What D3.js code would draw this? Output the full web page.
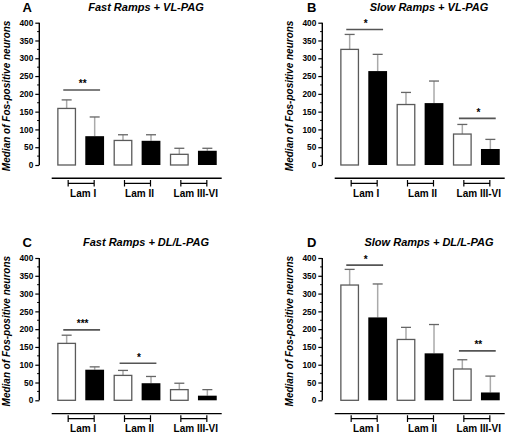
<!DOCTYPE html>
<html><head><meta charset="utf-8">
<script src="https://cdn.jsdelivr.net/npm/d3@7"></script>
<style>body{margin:0;background:#fff}svg{display:block;font-family:"Liberation Sans",Arial,sans-serif}</style>
</head><body><svg id="c" width="506" height="435"></svg>
<script>
// ---- data ----
const categories = ["Lam I", "Lam II", "Lam III-VI"];
const series = ["control", "treated"];
const panelLetters = ["A", "B", "C", "D"];
const panelTitles = ["Fast Ramps + VL-PAG", "Slow Ramps + VL-PAG", "Fast Ramps + DL/L-PAG", "Slow Ramps + DL/L-PAG"];
const yLabel = "Median of Fos-positive neurons";
const yTicks = [0, 50, 100, 150, 200, 250, 300, 350, 400];

const fastVL_control = [159, 69, 30],   fastVL_controlUpper = [183, 85, 47];
const fastVL_treated = [81, 68, 40],    fastVL_treatedUpper = [135, 85, 47];
const slowVL_control = [325, 170, 87],  slowVL_controlUpper = [367, 204, 114];
const slowVL_treated = [264, 174, 45],  slowVL_treatedUpper = [311, 236, 72];
const fastDL_control = [160, 70, 30],   fastDL_controlUpper = [183, 84, 48];
const fastDL_treated = [86, 48, 13],    fastDL_treatedUpper = [94, 67, 30];
const slowDL_control = [324, 171, 88],  slowDL_controlUpper = [368, 205, 114];
const slowDL_treated = [233, 132, 22],  slowDL_treatedUpper = [327, 213, 68];

const fastVL_sig = [{cat: "Lam I", mark: "**", level: 211}];
const slowVL_sig = [{cat: "Lam I", mark: "*", level: 381}, {cat: "Lam III-VI", mark: "*", level: 131}];
const fastDL_sig = [{cat: "Lam I", mark: "***", level: 198}, {cat: "Lam II", mark: "*", level: 104}];
const slowDL_sig = [{cat: "Lam I", mark: "*", level: 380}, {cat: "Lam III-VI", mark: "**", level: 139}];

const panels = [
  {c: fastVL_control, cu: fastVL_controlUpper, t: fastVL_treated, tu: fastVL_treatedUpper, sig: fastVL_sig},
  {c: slowVL_control, cu: slowVL_controlUpper, t: slowVL_treated, tu: slowVL_treatedUpper, sig: slowVL_sig},
  {c: fastDL_control, cu: fastDL_controlUpper, t: fastDL_treated, tu: fastDL_treatedUpper, sig: fastDL_sig},
  {c: slowDL_control, cu: slowDL_controlUpper, t: slowDL_treated, tu: slowDL_treatedUpper, sig: slowDL_sig}
];

// ---- layout ----
const svg = d3.select("#c");
const offsets = [[0, 0], [283, 0], [0, 235.3], [283, 235.3]];

panels.forEach((p, i) => {
  const [ox, oy] = offsets[i];
  const g = svg.append("g").attr("transform", `translate(${ox},${oy})`);
  const y = d3.scaleLinear().domain([0, 400]).range([165, 22.7]);
  const x = d3.scaleBand().domain(categories).range([52.5, 221.5]).padding(0);
  const xs = d3.scaleBand().domain(series).range([0, x.bandwidth()]).paddingInner(0.33).paddingOuter(0.17);

  // y axis
  const yAxis = d3.axisLeft(y).tickValues(yTicks).tickSize(4).tickPadding(2).tickFormat(d3.format("d"));
  const ag = g.append("g").attr("transform", "translate(39.3,0)").call(yAxis);
  ag.select(".domain").attr("stroke", "#000").attr("stroke-width", 1.4).attr("d", `M0,${y(400)}V${y(0)}`);
  ag.selectAll(".tick line").attr("stroke", "#000").attr("stroke-width", 1.2);
  ag.selectAll(".tick text").attr("font-size", 8.3).attr("font-weight", "bold").attr("fill", "#000")
    .attr("font-family", "Liberation Sans, Arial, sans-serif");
  // minor ticks
  const minor = d3.range(25, 400, 50);
  ag.selectAll(".minor").data(minor).join("line").attr("class", "minor")
    .attr("x1", -2.2).attr("x2", 0).attr("y1", d => y(d)).attr("y2", d => y(d))
    .attr("stroke", "#000").attr("stroke-width", 1);

  // y label
  g.append("text").attr("transform", `translate(10.3,${(y(0) + y(400)) / 2 + 2}) rotate(-90)`)
    .attr("text-anchor", "middle").attr("font-size", 10).attr("font-weight", "bold").attr("font-style", "italic")
    .text(yLabel);

  // letter and title
  g.append("text").attr("x", i % 2 ? 24 : 22.5).attr("y", 12).attr("font-size", 13).attr("font-weight", "bold").text(panelLetters[i]);
  g.append("text").attr("x", 146).attr("y", 11).attr("text-anchor", "middle").attr("font-size", 11)
    .attr("font-weight", "bold").attr("font-style", "italic").text(panelTitles[i]);

  // bars
  const rows = [];
  categories.forEach((cat, k) => {
    rows.push({cat, s: "control", v: p.c[k], u: p.cu[k]});
    rows.push({cat, s: "treated", v: p.t[k], u: p.tu[k]});
  });
  const bx = d => x(d.cat) + xs(d.s);
  // error bars
  g.selectAll(".stem").data(rows).join("line")
    .attr("x1", d => bx(d) + xs.bandwidth() / 2).attr("x2", d => bx(d) + xs.bandwidth() / 2)
    .attr("y1", d => y(d.v)).attr("y2", d => y(d.u)).attr("stroke", "#aaa").attr("stroke-width", 1.5);
  g.selectAll(".cap").data(rows).join("line")
    .attr("x1", d => bx(d) + xs.bandwidth() / 2 - 5).attr("x2", d => bx(d) + xs.bandwidth() / 2 + 5)
    .attr("y1", d => y(d.u)).attr("y2", d => y(d.u)).attr("stroke", "#666").attr("stroke-width", 1.3);
  g.selectAll(".bar").data(rows).join("rect")
    .attr("x", d => bx(d) + (d.s === "control" ? 0.6 : 0)).attr("y", d => y(d.v))
    .attr("width", d => xs.bandwidth() - (d.s === "control" ? 1.2 : 0)).attr("height", d => y(0) - y(d.v))
    .attr("fill", d => d.s === "control" ? "#fff" : "#000")
    .attr("stroke", d => d.s === "control" ? "#5a5a5a" : "none").attr("stroke-width", 1.3);

  // significance
  p.sig.forEach(s => {
    const x1 = x(s.cat) + xs("control") + 6, x2 = x(s.cat) + xs("treated") + xs.bandwidth() - 4;
    g.append("line").attr("x1", x1).attr("x2", x2).attr("y1", y(s.level)).attr("y2", y(s.level))
      .attr("stroke", "#555").attr("stroke-width", 1.6);
    g.append("text").attr("x", (x1 + x2) / 2 + 1).attr("y", y(s.level) - 2.5).attr("text-anchor", "middle")
      .attr("font-size", 10).attr("font-weight", "bold").text(s.mark);
  });

  // x axis (offset line with brackets)
  const baseY = y(0) + 13.3;
  g.append("line").attr("x1", 51.7).attr("x2", 221.7).attr("y1", baseY).attr("y2", baseY)
    .attr("stroke", "#000").attr("stroke-width", 1.4);
  categories.forEach(cat => {
    const cx = x(cat) + x.bandwidth() / 2 + 0.5;
    const by = y(0) + 18.3;
    g.append("path").attr("d", `M${cx - 13},${by - 3.3}V${by + 3.3}M${cx - 13},${by}H${cx + 13}M${cx + 13},${by - 3.3}V${by + 3.3}`)
      .attr("stroke", "#000").attr("stroke-width", 1.2).attr("fill", "none");
    g.append("text").attr("x", cx + 2).attr("y", y(0) + 32).attr("text-anchor", "middle")
      .attr("font-size", 10).attr("font-weight", "bold").text(cat);
  });
});
</script></body></html>
